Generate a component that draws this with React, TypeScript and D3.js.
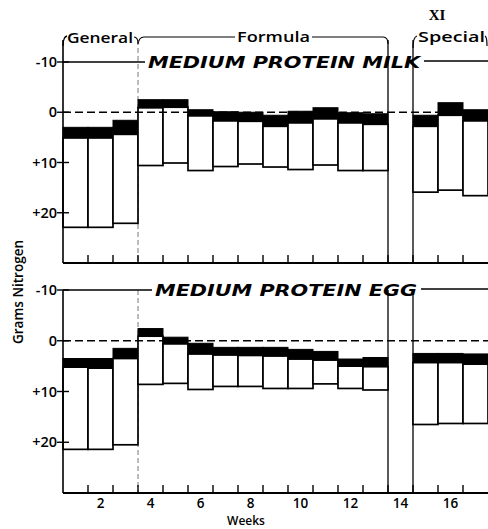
import React from "react";
import * as d3 from "d3";

const weeks = [1, 2, 3, 4, 5, 6, 7, 8, 9, 10, 11, 12, 13, 14, 15, 16, 17];
// values in chart units (positive = downward, i.e. "+10")
const milkStoolTop = [3.0, 3.0, 1.6, -2.5, -2.5, -0.5, -0.1, 0.0, 0.6, -0.2, -0.9, 0.1, 0.3, null, 0.6, -1.9, -0.5];
const milkUrineTop = [5.1, 5.1, 4.4, -0.9, -1.0, 0.7, 1.7, 1.8, 2.8, 2.1, 1.3, 2.1, 2.4, null, 2.8, 0.6, 1.7];
const milkIntake = [22.9, 22.9, 22.1, 10.6, 10.1, 11.6, 10.8, 10.3, 10.9, 11.4, 10.5, 11.6, 11.6, null, 15.9, 15.5, 16.6];

const eggStoolTop = [3.5, 3.5, 1.5, -2.4, -0.7, 0.5, 1.3, 1.3, 1.3, 1.7, 2.1, 3.6, 3.3, null, 2.5, 2.5, 2.6];
const eggUrineTop = [5.2, 5.4, 3.5, -0.9, 0.6, 2.6, 2.8, 2.9, 3.0, 3.6, 3.8, 5.0, 5.1, null, 4.3, 4.3, 4.6];
const eggIntake = [21.4, 21.4, 20.5, 8.6, 8.4, 9.6, 9.0, 9.0, 9.4, 9.4, 8.5, 9.4, 9.7, null, 16.5, 16.3, 16.3];

const yTicks = [-10, 0, 10, 20];
const yTickLabels = ["-10", "0", "+10", "+20"];
const xTickLabels = [2, 4, 6, 8, 10, 12, 14, 16];
const periods = ["General", "Formula", "Special"];
const panelTitles = ["MEDIUM PROTEIN MILK", "MEDIUM PROTEIN EGG"];

const FONT = "'Open Sans', 'Liberation Sans', Arial, sans-serif";

const x = d3.scaleLinear().domain([0, 17]).range([63, 488]);

function Panel({ y, stool, urine, intake, title, titleX0, titleX1, top }: any) {
  const [, y1] = y.range();
  const bars = weeks.map((w, i) => {
    if (intake[i] == null) return null;
    const xl = x(w - 1);
    const xr = x(w);
    return (
      <g key={w}>
        <rect x={xl} y={y(urine[i])} width={xr - xl} height={y(intake[i]) - y(urine[i])} fill="white" stroke="black" strokeWidth={1.7} />
        <rect x={xl} y={y(stool[i])} width={xr - xl} height={y(urine[i]) - y(stool[i])} fill="black" stroke="black" strokeWidth={1} />
      </g>
    );
  });
  return (
    <g>
      <line x1={x(3)} x2={x(3)} y1={top} y2={y1} stroke="#555" strokeWidth={0.8} strokeDasharray="5,3" />
      <line x1={x(13)} x2={x(13)} y1={top} y2={y1} stroke="black" strokeWidth={1.3} />
      <line x1={x(14)} x2={x(14)} y1={top} y2={y1} stroke="black" strokeWidth={1.3} />
      {bars}
      <line x1={x(0)} x2={488} y1={y(0)} y2={y(0)} stroke="black" strokeWidth={1.6} strokeDasharray="8,4" />
      <line x1={x(0)} x2={titleX0 - 3} y1={y(-10)} y2={y(-10)} stroke="black" strokeWidth={1.3} />
      <line x1={titleX1 + 4} x2={488} y1={y(-10) - 1} y2={y(-10) - 1} stroke="black" strokeWidth={1.3} />
      <text x={titleX0} y={y(-10) + 6} fontFamily="'DejaVu Sans', sans-serif" fontWeight={900} fontStyle="italic" fontSize={16} textLength={titleX1 - titleX0} lengthAdjust="spacingAndGlyphs">{title}</text>
      <line x1={x(0)} x2={x(0)} y1={top} y2={y1} stroke="black" strokeWidth={1.6} />
      {yTicks.map((t, i) => (
        <g key={t}>
          <line x1={x(0) - 6} x2={x(0) + 6} y1={y(t)} y2={y(t)} stroke="black" strokeWidth={1.4} />
          <text x={x(0) - 6} y={y(t) + 5} textAnchor="end" fontFamily={FONT} fontWeight={600} fontSize={14.5}>{yTickLabels[i]}</text>
        </g>
      ))}
      <line x1={x(0)} x2={488} y1={y1} y2={y1} stroke="black" strokeWidth={2} />
      {d3.range(1, 17).map((t) => (
        <line key={t} x1={x(t)} x2={x(t)} y1={y1} y2={y1 - 8} stroke="black" strokeWidth={1.4} />
      ))}
    </g>
  );
}

export default function App() {
  const yTop = d3.scaleLinear().domain([-10, 30]).range([62, 263]);
  const yBot = d3.scaleLinear().domain([-10, 30]).range([290, 493]);
  return (
    <svg width={488} height={529} style={{ position: "absolute", left: 0, top: 0, background: "white" }}>
      <rect width={488} height={529} fill="white" />
      <path d={`M${x(0)},46 Q${x(0)},37 ${x(0) + 4},36`} fill="none" stroke="black" strokeWidth={1.3} />
      <text x={67} y={43} fontFamily={FONT} fontWeight={600} fontSize={14} textLength={66} lengthAdjust="spacingAndGlyphs">{periods[0]}</text>
      <path d={`M${x(3) - 4},37 Q${x(3)},37 ${x(3)},44`} fill="none" stroke="black" strokeWidth={1.2} />
      <path d={`M${x(3)},44 Q${x(3) + 1},37 ${x(3) + 6},37 L235,37`} fill="none" stroke="black" strokeWidth={1.2} />
      <text x={237} y={42} fontFamily={FONT} fontWeight={600} fontSize={14} textLength={73} lengthAdjust="spacingAndGlyphs">{periods[1]}</text>
      <path d={`M312,37 L${x(13) - 5},37 Q${x(13)},37 ${x(13)},44`} fill="none" stroke="black" strokeWidth={1.2} />
      <path d={`M${x(14)},48 Q${x(14)},37 ${x(14) + 4},36`} fill="none" stroke="black" strokeWidth={1.2} />
      <text x={418} y={42} fontFamily={FONT} fontWeight={600} fontSize={14} textLength={67} lengthAdjust="spacingAndGlyphs">{periods[2]}</text>
      <path d={`M485,36 Q487,37 487,46`} fill="none" stroke="black" strokeWidth={1.2} />
      <text x={437} y={20} textAnchor="middle" fontFamily="'Liberation Serif', serif" fontWeight={700} fontSize={15}>XI</text>

      <Panel y={yTop} stool={milkStoolTop} urine={milkUrineTop} intake={milkIntake} title={panelTitles[0]} titleX0={148} titleX1={420} top={40} />
      <Panel y={yBot} stool={eggStoolTop} urine={eggUrineTop} intake={eggIntake} title={panelTitles[1]} titleX0={155} titleX1={417} top={yBot(-10)} />

      {xTickLabels.map((t) => (
        <text key={t} x={x(t - 0.5)} y={508} textAnchor="middle" fontFamily={FONT} fontWeight={600} fontSize={13.5}>{t}</text>
      ))}
      <text x={246} y={524.5} textAnchor="middle" fontFamily={FONT} fontWeight={600} fontSize={12}>Weeks</text>
      <text transform="translate(23,292) rotate(-90)" textAnchor="middle" fontFamily={FONT} fontWeight={600} fontSize={13.5}>Grams Nitrogen</text>
    </svg>
  );
}
